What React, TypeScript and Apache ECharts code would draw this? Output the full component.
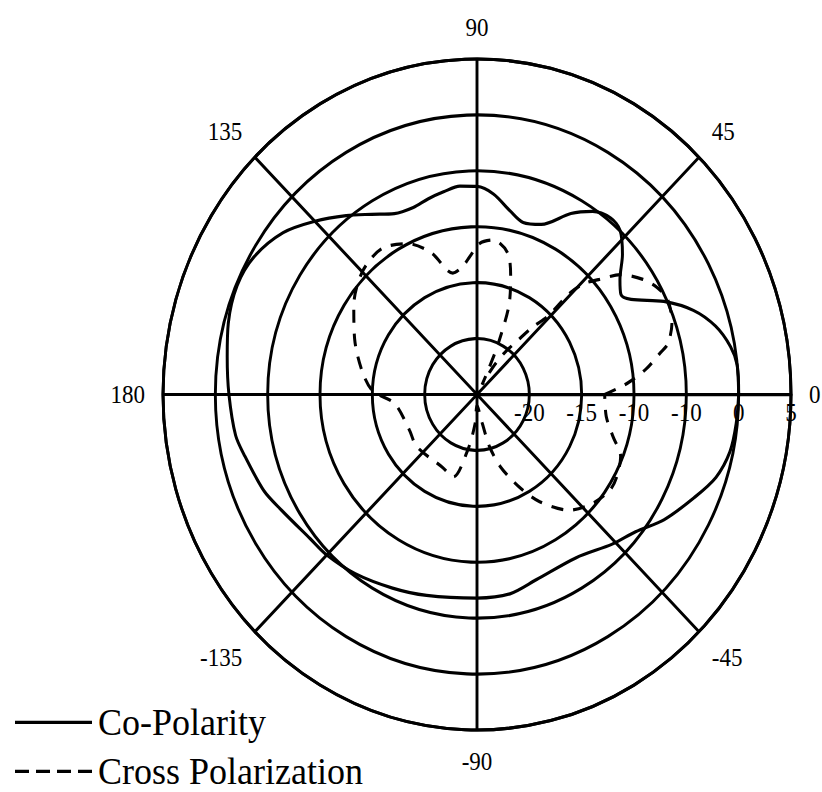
import React, { useEffect, useRef } from "react";
import * as echarts from "echarts";

// Polar pattern data: angle in degrees (0 = right, counter-clockwise), level in dB
const coAngles = [0, 6, 10, 15, 20, 25, 30, 33, 37, 42, 47, 51, 56, 61, 68, 74, 79, 85, 90, 95, 100, 105, 110, 116, 122, 128, 135, 142, 150, 157, 165, 172, 180, 189, 194, 203, 209, 219, 225, 234, 245, 255, 270, 280, 289, 303, 314, 321, 328, 336, 342, 348, 354, 360];
const coValues = [0, 0, -0.4, -1.4, -3.0, -5.3, -8.0, -8.6, -7.9, -6.3, -4.95, -4.7, -5.25, -6.5, -8.6, -9.0, -8.3, -7.0, -6.4, -6.3, -6.6, -6.9, -7.2, -7.0, -6.0, -4.7, -3.1, -1.5, -0.4, -0.1, -0.4, -0.9, -1.3, -1.65, -2.15, -2.9, -3.65, -4.5, -4.7, -5.2, -5.9, -6.4, -6.8, -6.9, -7.5, -7.6, -6.4, -5.5, -3.9, -2.3, -1.0, -0.3, -0.1, 0];

const crossAngles = [0, 4, 8, 12, 14, 19, 25, 29, 33, 38, 41.5, 44, 45.6, 46, 48.5, 51, 55, 58, 61, 64, 66, 69, 73, 77, 83.6, 89, 93, 97, 102, 109, 116, 125, 135, 146, 157, 169, 178, 186, 206, 219, 243, 253, 260, 266, 270, 281, 284.4, 289, 296, 302, 310.5, 318.3, 326, 331, 338, 344, 351, 360];
const crossValues = [-12.8, -10.6, -8.7, -7.1, -6.2, -5.3, -4.9, -5.3, -6.1, -7.6, -9.5, -10.7, -12.3, -15.3, -16.9, -18.7, -20.5, -22.1, -24, -22.5, -20, -16.5, -14, -12, -11.1, -11.5, -12.6, -13.5, -13.9, -11.6, -10, -9.1, -9.5, -10.8, -12.3, -13.8, -15, -17.1, -17.8, -17.6, -17.7, -17.3, -20, -22.4, -24, -22.4, -20.2, -18.2, -15.8, -13.7, -11.4, -10.3, -9.7, -9.75, -10.2, -11.5, -12.5, -12.8];

const seriesNames = ["Co-Polarity", "Cross Polarization"];

// Radial ring values and their printed labels
const radiusMin = -25;
const radiusMax = 5;
const radiusStep = 5;
const radiusTickLabels = ["", "-20", "-15", "-10", "-10", "0", "5"];

// Angular tick values and printed labels
const angleTicks = [0, 45, 90, 135, 180, 225, 270, 315, 360];
const angleTickLabels = ["0", "45", "90", "135", "180", "-135", "-90", "-45", ""];

const STRETCH_Y = 1.0685;
const CHART_H = 742;

const SOLID_ICON = "path://M0,0H77V3H0Z";
const DASH_ICON = "path://M0,0H14V3H0Z M21,0H35V3H21Z M42,0H56V3H42Z M63,0H77V3H63Z";

export default function App() {
  const ref = useRef<HTMLDivElement>(null);

  useEffect(() => {
    if (!ref.current) return;
    const chart = echarts.init(ref.current, null, { renderer: "svg" });
    const font = "'Liberation Serif', 'Times New Roman', serif";
    const lineColor = "#000";
    const option = {
      animation: false,
      backgroundColor: "#fff",
      color: ["#000", "#000"],
      polar: {
        center: [477, 369.2],
        radius: 314,
      },
      angleAxis: {
        type: "value",
        min: 0,
        max: 360,
        interval: 45,
        startAngle: 0,
        clockwise: false,
        axisLine: { show: true, lineStyle: { color: lineColor, width: 2.9 } },
        axisTick: { show: false },
        splitLine: { show: true, lineStyle: { color: lineColor, width: 2.9 } },
        axisLabel: {
          margin: 18,
          color: "#000",
          fontSize: 23,
          fontFamily: font,
          formatter: (v: number) => {
            const i = angleTicks.indexOf(Math.round(v));
            return i >= 0 ? angleTickLabels[i] : "";
          },
        },
      },
      radiusAxis: {
        type: "value",
        min: radiusMin,
        max: radiusMax,
        interval: radiusStep,
        axisLine: { show: true, lineStyle: { color: lineColor, width: 2.9 } },
        axisTick: { show: false },
        splitLine: { show: true, lineStyle: { color: lineColor, width: 2.9 } },
        axisLabel: {
          show: true,
          margin: -6,
          verticalAlign: "top",
          align: "center",
          color: "#000",
          fontSize: 23,
          fontFamily: font,
          showMinLabel: false,
          showMaxLabel: true,
          formatter: (v: number) => {
            const i = Math.round((v - radiusMin) / radiusStep);
            return radiusTickLabels[i] ?? "";
          },
        },
        z: 10,
      },
      legend: {
        data: [
          { name: seriesNames[0], icon: SOLID_ICON },
          { name: seriesNames[1], icon: DASH_ICON },
        ],
        orient: "vertical",
        left: 15,
        top: 658,
        padding: 0,
        itemWidth: 77,
        itemHeight: 3,
        itemGap: 10,
        itemStyle: { color: "#000" },
        textStyle: { color: "#000", fontSize: 36, lineHeight: 36, fontFamily: font, padding: [0, 0, 0, 1] },
      },
      series: [
        {
          name: seriesNames[0],
          type: "line",
          coordinateSystem: "polar",
          data: coAngles.map((a, i) => [coValues[i], a]),
          symbol: "none",
          showSymbol: false,
          smooth: 0.3,
          lineStyle: { color: "#000", width: 3, type: "solid" },
          z: 3,
        },
        {
          name: seriesNames[1],
          type: "line",
          coordinateSystem: "polar",
          data: crossAngles.map((a, i) => [crossValues[i], a]),
          symbol: "none",
          showSymbol: false,
          smooth: 0.3,
          lineStyle: { color: "#000", width: 3, type: [12, 10] },
          z: 3,
        },
      ],
    };
    chart.setOption(option as any);
    return () => chart.dispose();
  }, []);

  return (
    <div
      ref={ref}
      style={{
        position: "absolute",
        left: 0,
        top: 0,
        width: 822,
        height: CHART_H,
        transform: `scaleY(${STRETCH_Y})`,
        transformOrigin: "0 0",
        background: "#fff",
      }}
    />
  );
}
